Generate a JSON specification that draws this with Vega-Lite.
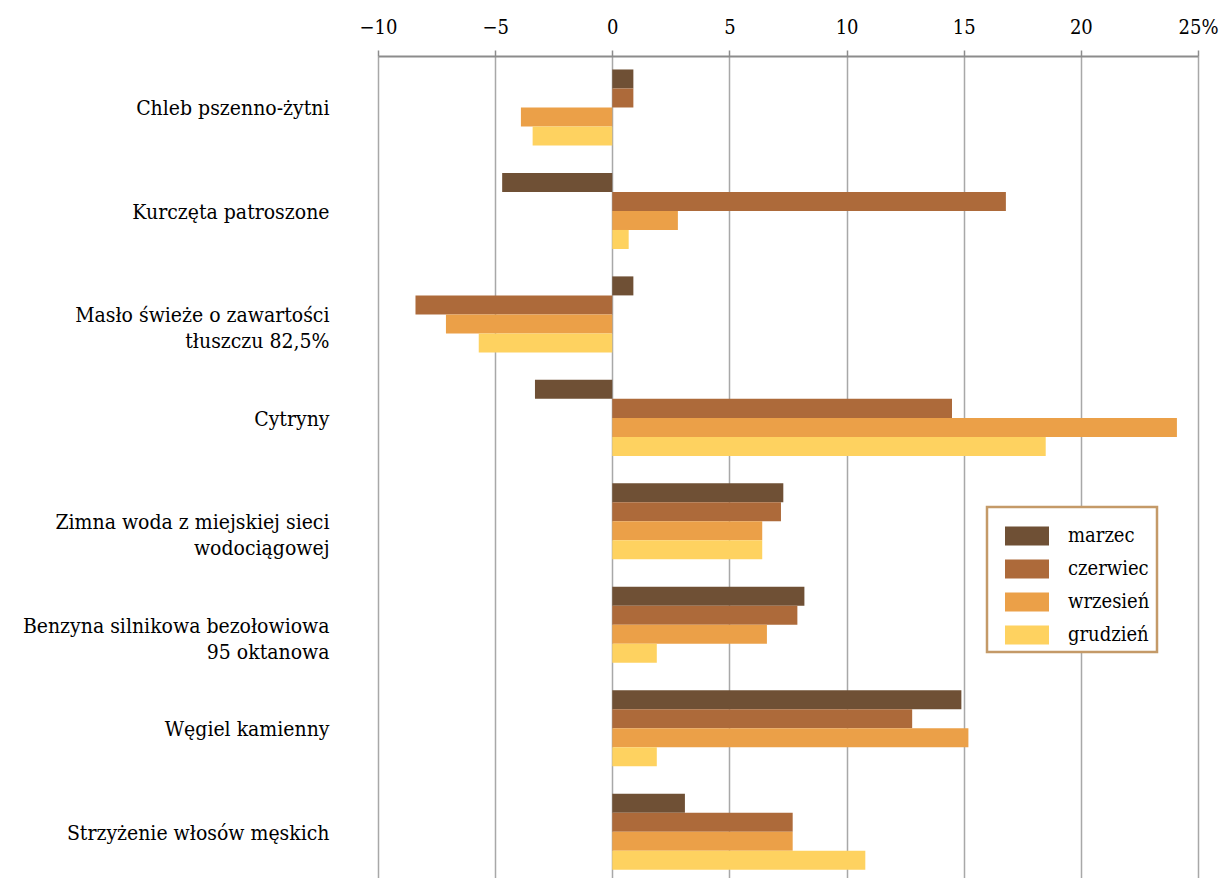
{
  "$schema": "https://vega.github.io/schema/vega-lite/v6.json",
  "width": 820,
  "height": 822,
  "autosize": {"type": "none"},
  "padding": {"left": 378, "top": 56, "right": 33, "bottom": 0},
  "background": "white",
  "config": {
    "font": "DejaVu Serif Condensed, DejaVu Serif",
    "view": {"stroke": null}
  },
  "data": {
    "values": [
      {"produkt": "Chleb pszenno-żytni", "miesiac": "marzec", "zmiana": 0.9},
      {"produkt": "Chleb pszenno-żytni", "miesiac": "czerwiec", "zmiana": 0.9},
      {"produkt": "Chleb pszenno-żytni", "miesiac": "wrzesień", "zmiana": -3.9},
      {"produkt": "Chleb pszenno-żytni", "miesiac": "grudzień", "zmiana": -3.4},
      {"produkt": "Kurczęta patroszone", "miesiac": "marzec", "zmiana": -4.7},
      {"produkt": "Kurczęta patroszone", "miesiac": "czerwiec", "zmiana": 16.8},
      {"produkt": "Kurczęta patroszone", "miesiac": "wrzesień", "zmiana": 2.8},
      {"produkt": "Kurczęta patroszone", "miesiac": "grudzień", "zmiana": 0.7},
      {"produkt": "Masło świeże o zawartości|tłuszczu 82,5%", "miesiac": "marzec", "zmiana": 0.9},
      {"produkt": "Masło świeże o zawartości|tłuszczu 82,5%", "miesiac": "czerwiec", "zmiana": -8.4},
      {"produkt": "Masło świeże o zawartości|tłuszczu 82,5%", "miesiac": "wrzesień", "zmiana": -7.1},
      {"produkt": "Masło świeże o zawartości|tłuszczu 82,5%", "miesiac": "grudzień", "zmiana": -5.7},
      {"produkt": "Cytryny", "miesiac": "marzec", "zmiana": -3.3},
      {"produkt": "Cytryny", "miesiac": "czerwiec", "zmiana": 14.5},
      {"produkt": "Cytryny", "miesiac": "wrzesień", "zmiana": 24.1},
      {"produkt": "Cytryny", "miesiac": "grudzień", "zmiana": 18.5},
      {"produkt": "Zimna woda z miejskiej sieci|wodociągowej", "miesiac": "marzec", "zmiana": 7.3},
      {"produkt": "Zimna woda z miejskiej sieci|wodociągowej", "miesiac": "czerwiec", "zmiana": 7.2},
      {"produkt": "Zimna woda z miejskiej sieci|wodociągowej", "miesiac": "wrzesień", "zmiana": 6.4},
      {"produkt": "Zimna woda z miejskiej sieci|wodociągowej", "miesiac": "grudzień", "zmiana": 6.4},
      {"produkt": "Benzyna silnikowa bezołowiowa|95 oktanowa", "miesiac": "marzec", "zmiana": 8.2},
      {"produkt": "Benzyna silnikowa bezołowiowa|95 oktanowa", "miesiac": "czerwiec", "zmiana": 7.9},
      {"produkt": "Benzyna silnikowa bezołowiowa|95 oktanowa", "miesiac": "wrzesień", "zmiana": 6.6},
      {"produkt": "Benzyna silnikowa bezołowiowa|95 oktanowa", "miesiac": "grudzień", "zmiana": 1.9},
      {"produkt": "Węgiel kamienny", "miesiac": "marzec", "zmiana": 14.9},
      {"produkt": "Węgiel kamienny", "miesiac": "czerwiec", "zmiana": 12.8},
      {"produkt": "Węgiel kamienny", "miesiac": "wrzesień", "zmiana": 15.2},
      {"produkt": "Węgiel kamienny", "miesiac": "grudzień", "zmiana": 1.9},
      {"produkt": "Strzyżenie włosów męskich", "miesiac": "marzec", "zmiana": 3.1},
      {"produkt": "Strzyżenie włosów męskich", "miesiac": "czerwiec", "zmiana": 7.7},
      {"produkt": "Strzyżenie włosów męskich", "miesiac": "wrzesień", "zmiana": 7.7},
      {"produkt": "Strzyżenie włosów męskich", "miesiac": "grudzień", "zmiana": 10.8}
    ]
  },
  "mark": {"type": "bar"},
  "encoding": {
    "y": {
      "field": "produkt",
      "type": "nominal",
      "sort": null,
      "scale": {"paddingInner": 0.265, "paddingOuter": 0.105, "align": 0.62},
      "axis": {
        "title": null,
        "domain": false,
        "ticks": false,
        "grid": false,
        "labelFont": "DejaVu Serif Condensed, DejaVu Serif",
        "labelFontSize": 21,
        "labelColor": "#000000",
        "labelPadding": 49,
        "labelLimit": 400,
        "labelLineHeight": 26,
        "labelBaseline": "middle",
        "labelOffset": 2,
        "labelExpr": "split(datum.label, '|')"
      }
    },
    "yOffset": {
      "field": "miesiac",
      "type": "nominal",
      "sort": ["marzec", "czerwiec", "wrzesień", "grudzień"],
      "scale": {"paddingInner": 0, "paddingOuter": 0}
    },
    "x": {
      "field": "zmiana",
      "type": "quantitative",
      "scale": {"domain": [-10, 25], "nice": false, "zero": false},
      "axis": {
        "orient": "top",
        "title": null,
        "values": [-10, -5, 0, 5, 10, 15, 20, 25],
        "labelExpr": "datum.value == 25 ? '25%' : format(datum.value, 'd')",
        "labelFont": "DejaVu Serif Condensed, DejaVu Serif",
        "labelFontSize": 20,
        "labelColor": "#000000",
        "labelPadding": 13,
        "labelFlush": false,
        "domainColor": "#8C8C8C",
        "domainWidth": 2,
        "tickColor": "#8C8C8C",
        "tickWidth": 1.5,
        "tickSize": 6,
        "grid": true,
        "gridColor": "#A8A8A8",
        "gridWidth": 1.5
      }
    },
    "color": {
      "field": "miesiac",
      "type": "nominal",
      "scale": {
        "domain": ["marzec", "czerwiec", "wrzesień", "grudzień"],
        "range": ["#6F5035", "#AD6A3A", "#EBA048", "#FED260"]
      },
      "legend": {
        "title": null,
        "orient": "none",
        "legendX": 609,
        "legendY": 451,
        "direction": "vertical",
        "fillColor": "#FFFFFF",
        "strokeColor": "#C49A68",
        "padding": 7,
        "symbolOffset": 11,
        "symbolType": "M-1,-0.432H1V0.432H-1Z",
        "symbolSize": 1936,
        "symbolStrokeWidth": 0,
        "symbolOpacity": 1,
        "labelFont": "DejaVu Serif Condensed, DejaVu Serif",
        "labelFontSize": 20,
        "labelColor": "#000000",
        "labelOffset": 19,
        "rowPadding": 1,
        "labelLimit": 200,
        "encode": {
          "legend": {"update": {"strokeWidth": {"value": 2.5}}}
        }
      }
    }
  }
}
